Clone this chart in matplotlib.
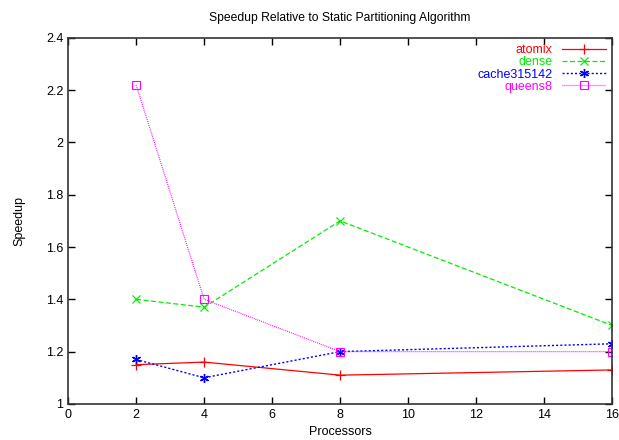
import matplotlib
matplotlib.use("Agg")
import matplotlib.pyplot as plt

plt.rcParams["font.family"] = ["Liberation Sans", "DejaVu Sans"]

processors = [2, 4, 8, 16]
atomix = [1.15, 1.16, 1.11, 1.13]
dense = [1.40, 1.37, 1.70, 1.30]
cache315142 = [1.17, 1.10, 1.20, 1.23]
queens8 = [2.22, 1.40, 1.20, 1.20]

fig = plt.figure(figsize=(6.19, 4.40), dpi=100)
ax = fig.add_axes([0.110, 0.082, 0.879, 0.832])

ax.plot(processors, atomix, color="#ff0000", ls="-", lw=0.9,
        marker="+", ms=7, mew=0.9, label="atomix")
ax.plot(processors, dense, color="#00ee00", ls=(0, (4, 2)), lw=0.9,
        marker="x", ms=5.5, mew=0.9, label="dense")
ax.plot(processors, cache315142, color="#0000ff", ls=(0, (1.5, 1.5)), lw=1.0,
        marker=(6, 2, 0), ms=6.5, mew=1.0, label="cache315142")
ax.plot(processors, queens8, color="#ff00ff", ls=(0, (0.7, 0.9)), lw=0.9,
        marker="s", ms=5.5, mew=0.8, mfc="none", label="queens8")

ax.set_xlim(0, 16)
ax.set_ylim(1, 2.4)
ax.set_xticks(range(0, 17, 2))
ax.set_yticks([1, 1.2, 1.4, 1.6, 1.8, 2, 2.2, 2.4])
ax.set_yticklabels(["1", "1.2", "1.4", "1.6", "1.8", "2", "2.2", "2.4"])
ax.tick_params(direction="in", top=True, right=True, labelsize=9, length=5, width=1)
for s in ax.spines.values():
    s.set_linewidth(1.2)
    s.set_color("#333333")

ax.set_title("Speedup Relative to Static Partitioning Algorithm", fontsize=8.7, pad=12)
ax.set_xlabel("Processors", fontsize=9, labelpad=4)
ax.set_ylabel("Speedup", fontsize=9, labelpad=15)

ax.legend(loc="upper right", frameon=False, markerfirst=False, labelcolor="linecolor",
          fontsize=9, handlelength=3.5, labelspacing=0.02, borderaxespad=0.2,
          handletextpad=0.8, borderpad=0.3)

fig.savefig("out.png", dpi=100)
